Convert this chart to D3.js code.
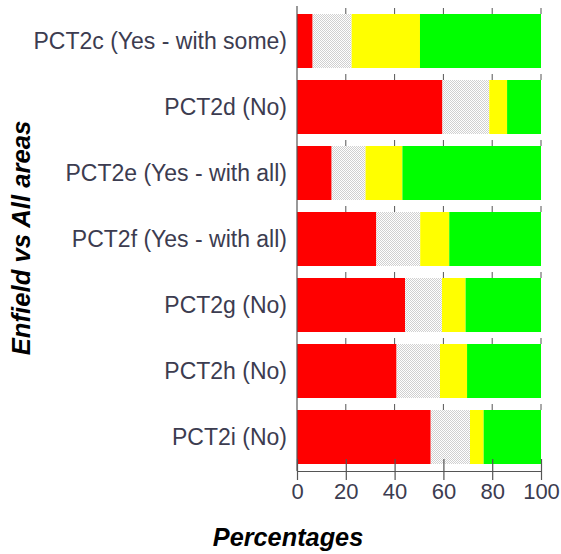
<!DOCTYPE html>
<html><head><meta charset="utf-8">
<script src="https://cdn.jsdelivr.net/npm/d3@7"></script>
<style>body{margin:0;background:#fff}svg{display:block}</style>
</head><body>
<script>
const categories = ["PCT2c (Yes - with some)","PCT2d (No)","PCT2e (Yes - with all)","PCT2f (Yes - with all)","PCT2g (No)","PCT2h (No)","PCT2i (No)"];
const redVals    = [6.4, 59.6, 14.2, 32.5, 44.3, 40.8, 54.8];
const grayVals   = [16.0, 19.2, 13.9, 18.0, 15.1, 17.8, 16.1];
const yellowVals = [28.0, 7.3, 15.1, 11.9, 9.7, 11.1, 5.6];
const greenVals  = [49.6, 13.9, 56.8, 37.6, 30.9, 30.3, 23.5];
const xTicks = [0, 20, 40, 60, 80, 100];
const seriesColors = ["#ff0000", "url(#dots)", "#ffff00", "#00ff00"];

const W = 561, H = 554;
const svg = d3.select("body").append("svg").attr("width", W).attr("height", H);
const defs = svg.append("defs");
const pat = defs.append("pattern").attr("id","dots").attr("width",2).attr("height",2).attr("patternUnits","userSpaceOnUse");
pat.append("rect").attr("width",2).attr("height",2).attr("fill","#ffffff");
pat.append("rect").attr("x",0).attr("y",0).attr("width",1).attr("height",1).attr("fill","#d0d0d0");
pat.append("rect").attr("x",1).attr("y",1).attr("width",1).attr("height",1).attr("fill","#d0d0d0");

const x = d3.scaleLinear().domain([0,100]).range([297,541]);
const y = d3.scaleBand().domain(categories).range([8,470]).paddingInner(12/66).paddingOuter(6/66);

const lineColor = "#555";
const font = "Liberation Sans, Arial, sans-serif";
// short tick marks above each bar
categories.forEach(c => {
  svg.append("g").selectAll("line").data(xTicks.slice(1)).join("line")
    .attr("x1", d => x(d)).attr("x2", d => x(d))
    .attr("y1", y(c) - 6).attr("y2", y(c))
    .attr("stroke", lineColor).attr("stroke-width", 1);
});

const seriesList = [redVals, grayVals, yellowVals, greenVals];
const rows = categories.map((c,i) => {
  let acc = 0;
  return seriesList.map((s,k) => { const v = s[i]; const r = {cat:c, k, x0:acc, x1:acc+v}; acc += v; return r; });
});
svg.append("g").selectAll("rect").data(rows.flat()).join("rect")
  .attr("x", d => x(d.x0)).attr("width", d => x(Math.min(d.x1,100)) - x(d.x0))
  .attr("y", d => y(d.cat)).attr("height", y.bandwidth())
  .attr("fill", d => seriesColors[d.k]);

// left axis line
svg.append("line").attr("x1", x(0)).attr("x2", x(0)).attr("y1", 6).attr("y2", 471)
  .attr("stroke", lineColor).attr("stroke-width", 1.2);
// bottom axis
const xAxis = d3.axisBottom(x).tickValues(xTicks).tickSize(9).tickPadding(3).tickSizeOuter(0);
const gx = svg.append("g").attr("transform","translate(0,471)").call(xAxis);
gx.select(".domain").attr("stroke", lineColor).attr("stroke-width",1.2);
gx.selectAll(".tick line").attr("stroke", lineColor).attr("stroke-width",1.2).attr("y1",-12);
gx.selectAll(".tick text").attr("font-family",font).attr("font-size",22).attr("fill","#3c3c50");

// category labels
svg.append("g").selectAll("text").data(categories).join("text")
  .attr("x", 287).attr("y", d => y(d) + y.bandwidth()/2)
  .attr("dy","0.36em").attr("text-anchor","end")
  .attr("font-family",font).attr("font-size",23)
  .attr("fill","#3c3c50").text(d => d);

// axis titles
svg.append("text").attr("x", 288).attr("y", 546).attr("text-anchor","middle")
  .attr("font-family",font).attr("font-size",25.3)
  .attr("font-weight","bold").attr("font-style","italic").attr("fill","#000").text("Percentages");
svg.append("text").attr("transform","translate(30,238) rotate(-90)").attr("text-anchor","middle")
  .attr("font-family",font).attr("font-size",25.7)
  .attr("font-weight","bold").attr("font-style","italic").attr("fill","#000").text("Enfield vs All areas");
</script>
</body></html>
